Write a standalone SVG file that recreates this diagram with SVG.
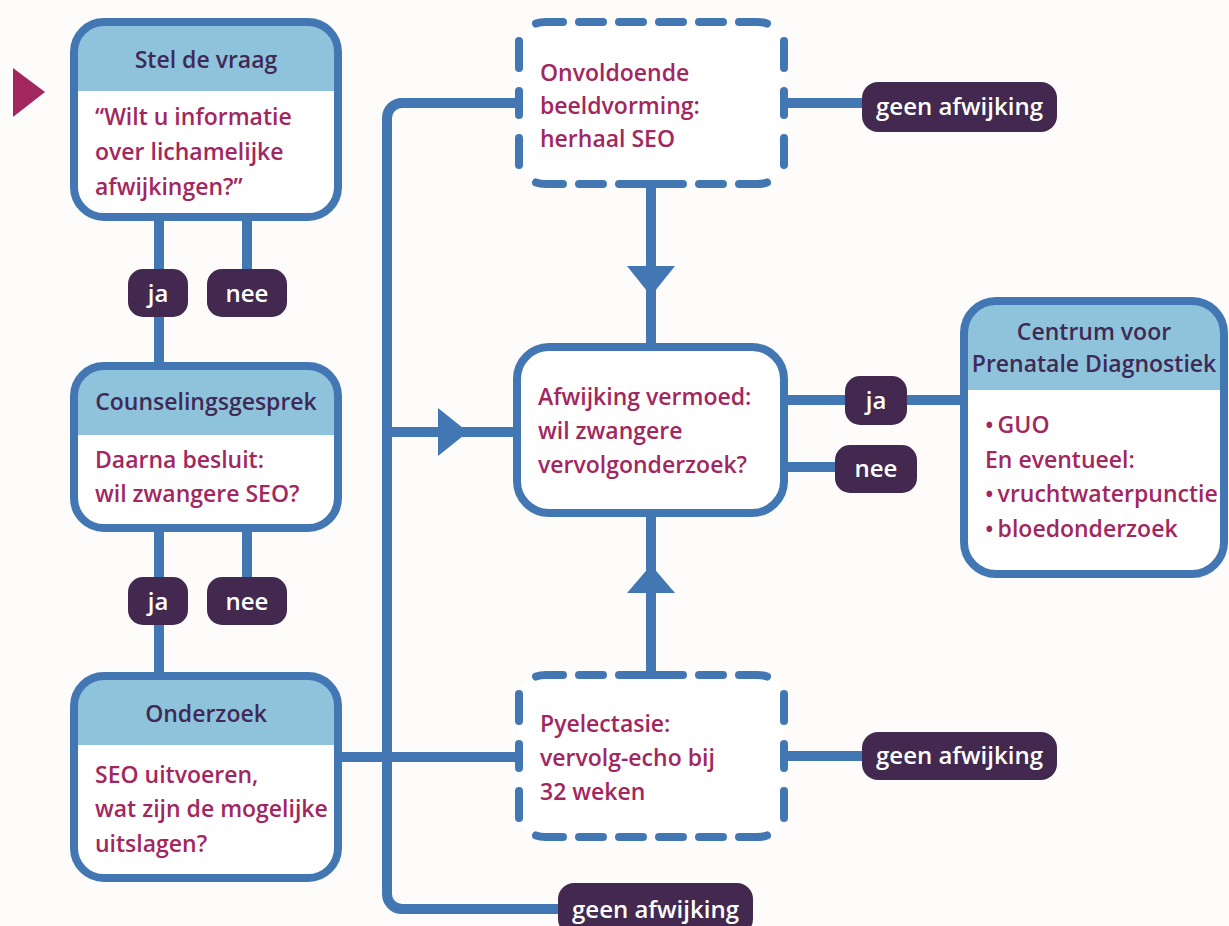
<svg xmlns="http://www.w3.org/2000/svg" xmlns:xlink="http://www.w3.org/1999/xlink" width="1229" height="926" viewBox="0 0 1229 926">
<style>
.bg{fill:#fdfcfa}
.box{fill:#ffffff;stroke:none}
.border{fill:none;stroke:#4277b3;stroke-width:8}
.hdrfill{fill:#8fc3dc}
.dash{fill:none;stroke:#4277b3;stroke-width:8;stroke-linecap:round}
.conn{fill:none;stroke:#4277b3;stroke-width:10}
.arrow{fill:#4277b3}
.hdr{font-family:"Open Sans","Liberation Sans",sans-serif;font-weight:600;font-size:23px;fill:#3f2a55;text-anchor:middle}
.body{font-family:"Open Sans","Liberation Sans",sans-serif;font-weight:600;font-size:23px;fill:#a2275f}
.bullet{word-spacing:-2px}
.pill{fill:#432950}
.pilltxt{font-family:"Open Sans","Liberation Sans",sans-serif;font-weight:600;font-size:24px;fill:#ffffff;text-anchor:middle}
</style>
<defs>
<path id="dbox" d="M536,23.5 Q540,22 546,22 H563 M579,22 H603 M619,22 H643 M659,22 H683 M699,22 H723 M739,22 H757 Q763,22 767,23.5 M536,182.5 Q540,184 546,184 H563 M579,184 H603 M619,184 H683 M699,184 H723 M739,184 H757 Q763,184 767,182.5 M519,41 V68 M519,91 V115 M519,138 V165 M784,41 V68 M784,91 V115 M784,138 V165"/>
</defs>
<rect class="bg" x="0" y="0" width="1229" height="926"/>
<polygon points="13,68 45,92 13,117" fill="#a2275f"/>
<g id="connectors">
<path class="conn" d="M159,217 V366"/>
<path class="conn" d="M247,217 V272"/>
<path class="conn" d="M159,528 V676"/>
<path class="conn" d="M247,528 V580"/>
<path class="conn" d="M519,103 H402 A15,15 0 0 0 387,118 V894 A15,15 0 0 0 402,909 H565"/>
<path class="conn" d="M338,757 H519"/>
<path class="conn" d="M387,432 H517"/>
<polygon class="arrow" points="438,408 468,432 438,456"/>
<path class="conn" d="M651,184 V347"/>
<polygon class="arrow" points="627,266 675,266 651,296"/>
<path class="conn" d="M651,513 V675"/>
<polygon class="arrow" points="627,593 675,593 651,565"/>
<path class="conn" d="M784,103 H870"/>
<path class="conn" d="M784,756 H870"/>
<path class="conn" d="M784,400 H964"/>
<path class="conn" d="M784,467 H840"/>
</g>
<g id="stel">
<rect class="box" x="74" y="22" width="264" height="195" rx="30"/>
<path class="hdrfill" d="M74,91 V52 A30,30 0 0 1 104,22 H308 A30,30 0 0 1 338,52 V91 Z"/>
<rect class="border" x="74" y="22" width="264" height="195" rx="30"/>
<text class="hdr" x="206" y="68">Stel de vraag</text>
<text class="body" x="95" y="125">“Wilt u informatie</text>
<text class="body" x="95" y="160">over lichamelijke</text>
<text class="body" x="95" y="195">afwijkingen?”</text>
</g>
<g id="ja1"><rect class="pill" x="128" y="269" width="60" height="48" rx="15"/><text class="pilltxt" x="158" y="302">ja</text></g>
<g id="nee1"><rect class="pill" x="207" y="269" width="80" height="48" rx="15"/><text class="pilltxt" x="247" y="302">nee</text></g>
<g id="counseling">
<rect class="box" x="74" y="366" width="264" height="162" rx="30"/>
<path class="hdrfill" d="M74,435 V396 A30,30 0 0 1 104,366 H308 A30,30 0 0 1 338,396 V435 Z"/>
<rect class="border" x="74" y="366" width="264" height="162" rx="30"/>
<text class="hdr" x="206" y="410">Counselingsgesprek</text>
<text class="body" x="95" y="468">Daarna besluit:</text>
<text class="body" x="95" y="502">wil zwangere SEO?</text>
</g>
<g id="ja2"><rect class="pill" x="128" y="577" width="60" height="48" rx="15"/><text class="pilltxt" x="158" y="610">ja</text></g>
<g id="nee2"><rect class="pill" x="207" y="577" width="80" height="48" rx="15"/><text class="pilltxt" x="247" y="610">nee</text></g>
<g id="onderzoek">
<rect class="box" x="74" y="676" width="264" height="202" rx="30"/>
<path class="hdrfill" d="M74,745 V706 A30,30 0 0 1 104,676 H308 A30,30 0 0 1 338,706 V745 Z"/>
<rect class="border" x="74" y="676" width="264" height="202" rx="30"/>
<text class="hdr" x="206" y="722">Onderzoek</text>
<text class="body" x="95" y="783">SEO uitvoeren,</text>
<text class="body" x="95" y="817">wat zijn de mogelijke</text>
<text class="body" x="95" y="852">uitslagen?</text>
</g>
<g id="onvoldoende">
<rect class="box" x="519" y="22" width="265" height="162" rx="26"/>
<use xlink:href="#dbox" class="dash"/>
<text class="body" x="540" y="81">Onvoldoende</text>
<text class="body" x="540" y="114">beeldvorming:</text>
<text class="body" x="540" y="147">herhaal SEO</text>
</g>
<g id="afwijking">
<rect class="box" x="517" y="347" width="267" height="166" rx="32"/>
<rect class="border" x="517" y="347" width="267" height="166" rx="32"/>
<text class="body" x="538" y="405">Afwijking vermoed:</text>
<text class="body" x="538" y="439">wil zwangere</text>
<text class="body" x="538" y="473">vervolgonderzoek?</text>
</g>
<g id="pyelectasie">
<rect class="box" x="519" y="675" width="265" height="162" rx="26"/>
<use xlink:href="#dbox" class="dash" transform="matrix(1,0,0,-1,0,859)"/>
<text class="body" x="540" y="732">Pyelectasie:</text>
<text class="body" x="540" y="766">vervolg-echo bij</text>
<text class="body" x="540" y="800">32 weken</text>
</g>
<g id="centrum">
<rect class="box" x="964" y="301" width="260" height="273" rx="32"/>
<path class="hdrfill" d="M964,390 V333 A32,32 0 0 1 996,301 H1192 A32,32 0 0 1 1224,333 V390 Z"/>
<rect class="border" x="964" y="301" width="260" height="273" rx="32"/>
<text class="hdr" x="1094" y="340">Centrum voor</text>
<text class="hdr" x="1094" y="372">Prenatale Diagnostiek</text>
<text class="body bullet" x="985" y="433">• GUO</text>
<text class="body" x="985" y="468">En eventueel:</text>
<text class="body bullet" x="985" y="502">• vruchtwaterpunctie</text>
<text class="body bullet" x="985" y="537">• bloedonderzoek</text>
</g>
<g id="ja3"><rect class="pill" x="845" y="376" width="62" height="49" rx="15"/><text class="pilltxt" x="876" y="409">ja</text></g>
<g id="nee3"><rect class="pill" x="835" y="445" width="82" height="48" rx="15"/><text class="pilltxt" x="876" y="477">nee</text></g>
<g id="geen1"><rect class="pill" x="862" y="82" width="195" height="50" rx="16"/><text class="pilltxt" x="959.5" y="115">geen afwijking</text></g>
<g id="geen2"><rect class="pill" x="862" y="732" width="195" height="48" rx="16"/><text class="pilltxt" x="959.5" y="764">geen afwijking</text></g>
<g id="geen3"><rect class="pill" x="558" y="883" width="195" height="52" rx="16"/><text class="pilltxt" x="655.5" y="918">geen afwijking</text></g>
</svg>
